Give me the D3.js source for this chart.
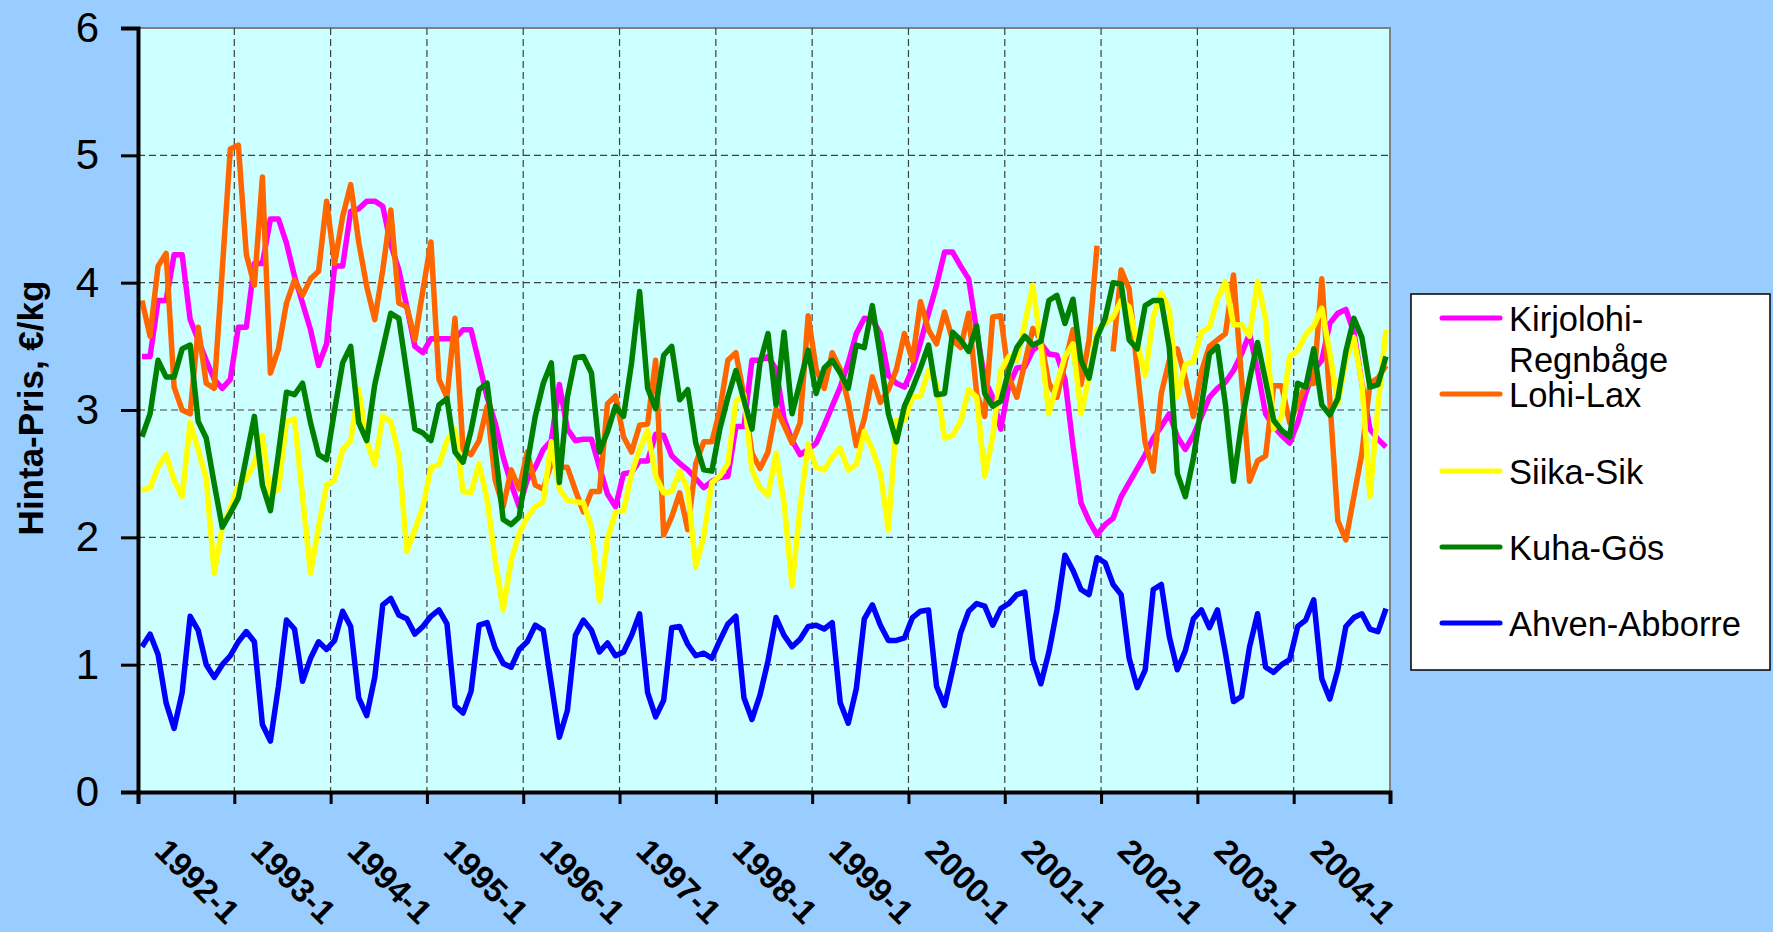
<!DOCTYPE html>
<html>
<head>
<meta charset="utf-8">
<script src="https://cdn.jsdelivr.net/npm/d3@7/dist/d3.min.js"></script>
<style>
  body { margin: 0; background: #99CCFF; }
  svg text { font-family: "Liberation Sans", Arial, sans-serif; }
</style>
</head>
<body>
<svg id="chart" width="1773" height="932"></svg>
<script>
// categories: one per month, Jan 1992 .. Dec 2004
const years = [1992, 1993, 1994, 1995, 1996, 1997, 1998, 1999, 2000, 2001, 2002, 2003, 2004];
const months = [];
years.forEach(y => { for (let m = 1; m <= 12; m++) months.push(y + "-" + m); });

// tick labels
const yearLabels = years.map(y => y + "-1");
const yTicks = [0, 1, 2, 3, 4, 5, 6];

// series names (legend)
const seriesNames = ["Kirjolohi-\nRegnbåge", "Lohi-Lax", "Siika-Sik", "Kuha-Gös", "Ahven-Abborre"];
const seriesColors = ["#FF00FF", "#FF6600", "#FFFF00", "#008000", "#0000FF"];

// values, €/kg
const kirjolohi = [
  3.42, 3.42, 3.86, 3.86, 4.22, 4.22, 3.71, 3.55, 3.39, 3.24, 3.17, 3.24,
  3.65, 3.65, 4.15, 4.15, 4.50, 4.50, 4.31, 4.05, 3.84, 3.63, 3.35, 3.52,
  4.13, 4.13, 4.56, 4.58, 4.64, 4.64, 4.60, 4.30, 4.10, 3.81, 3.50, 3.45,
  3.56, 3.56, 3.56, 3.56, 3.63, 3.63, 3.37, 3.10, 2.90, 2.63, 2.42, 2.24,
  2.45, 2.55, 2.69, 2.76, 3.20, 2.85, 2.76, 2.77, 2.77, 2.55, 2.34, 2.24,
  2.50, 2.51, 2.60, 2.60, 2.81, 2.80, 2.64, 2.58, 2.53, 2.46, 2.39, 2.44,
  2.47, 2.48, 2.87, 2.87, 3.39, 3.39, 3.42, 3.32, 2.93, 2.76, 2.65, 2.69,
  2.74, 2.88, 3.03, 3.18, 3.37, 3.60, 3.72, 3.71, 3.60, 3.27, 3.21, 3.18,
  3.32, 3.53, 3.76, 3.98, 4.24, 4.24, 4.13, 4.03, 3.62, 3.24, 3.10, 2.85,
  3.19, 3.33, 3.34, 3.47, 3.52, 3.44, 3.43, 3.24, 2.72, 2.27, 2.13, 2.02,
  2.10, 2.15, 2.32, 2.43, 2.54, 2.65, 2.78, 2.87, 2.97, 2.79, 2.69, 2.80,
  2.95, 3.10, 3.17, 3.22, 3.31, 3.44, 3.60, 3.31, 2.97, 2.87, 2.80, 2.74,
  2.90, 3.13, 3.31, 3.39, 3.68, 3.76, 3.79, 3.61, 3.21, 2.85, 2.77, 2.71
];
const lohi = [
  3.86, 3.58, 4.13, 4.23, 3.18, 3.00, 2.97, 3.65, 3.21, 3.17, 4.10, 5.05,
  5.08, 4.22, 3.98, 4.83, 3.29, 3.48, 3.84, 4.02, 3.90, 4.03, 4.09, 4.64,
  4.15, 4.52, 4.77, 4.32, 3.97, 3.71, 4.10, 4.57, 3.84, 3.81, 3.55, 3.94,
  4.32, 3.24, 3.10, 3.72, 2.69, 2.65, 2.76, 3.03, 2.45, 2.24, 2.53, 2.38,
  2.67, 2.41, 2.38, 2.58, 2.55, 2.55, 2.37, 2.20, 2.36, 2.36, 3.05, 3.11,
  2.79, 2.67, 2.88, 2.89, 3.39, 2.02, 2.16, 2.35, 2.06, 2.58, 2.75, 2.75,
  3.00, 3.39, 3.45, 3.11, 2.66, 2.54, 2.67, 3.01, 2.88, 2.74, 2.90, 3.74,
  3.32, 3.17, 3.45, 3.32, 3.06, 2.72, 2.93, 3.26, 3.06, 3.16, 3.32, 3.60,
  3.39, 3.85, 3.63, 3.52, 3.77, 3.55, 3.49, 3.76, 3.13, 2.95, 3.73, 3.74,
  3.26, 3.10, 3.37, 3.64, 3.55, 3.21, 3.10, 3.37, 3.63, 3.20, 3.55, 4.29,
  null, 3.46, 4.10, 3.95, 3.32, 2.74, 2.52, 3.13, 3.39, 3.48, 3.25, 2.95,
  3.30, 3.50, 3.55, 3.60, 4.06, 3.25, 2.44, 2.60, 2.64, 3.19, 3.19, 2.90,
  3.05, 3.20, 3.21, 4.03, 3.08, 2.13, 1.98, 2.32, 2.66, 3.21, 3.25, 3.35
];
const siika = [
  2.37, 2.39, 2.55, 2.65, 2.45, 2.32, 2.90, 2.69, 2.46, 1.72, 2.08, 2.23,
  2.41, 2.46, 2.58, 2.80, 2.33, 2.38, 2.91, 2.93, 2.32, 1.72, 2.08, 2.41,
  2.45, 2.69, 2.76, 3.16, 2.76, 2.57, 2.95, 2.91, 2.65, 1.89, 2.06, 2.24,
  2.55, 2.57, 2.76, 2.85, 2.36, 2.35, 2.58, 2.30, 1.82, 1.43, 1.82, 2.03,
  2.16, 2.24, 2.28, 2.75, 2.38, 2.29, 2.28, 2.27, 2.08, 1.50, 1.99, 2.20,
  2.21, 2.50, 2.69, 2.84, 2.48, 2.35, 2.36, 2.52, 2.37, 1.77, 2.01, 2.43,
  2.48, 2.58, 3.07, 3.12, 2.53, 2.39, 2.33, 2.66, 2.27, 1.62, 2.24, 2.73,
  2.55, 2.53, 2.63, 2.70, 2.53, 2.57, 2.83, 2.69, 2.51, 2.06, 2.92, 2.92,
  3.10, 3.11, 3.31, 3.21, 2.78, 2.80, 2.91, 3.16, 3.10, 2.48, 2.79, 3.31,
  3.42, 3.39, 3.68, 3.98, 3.50, 2.97, 3.21, 3.42, 3.52, 2.97, 3.26, 3.63,
  3.68, 3.73, 3.86, 3.81, 3.52, 3.27, 3.73, 3.92, 3.79, 3.10, 3.36, 3.38,
  3.61, 3.65, 3.87, 4.01, 3.67, 3.67, 3.58, 4.01, 3.72, 2.85, 2.95, 3.42,
  3.47, 3.59, 3.66, 3.80, 3.45, 3.05, 3.39, 3.57, 3.21, 2.32, 3.03, 3.63
];
const kuha = [
  2.79, 2.97, 3.39, 3.26, 3.26, 3.48, 3.51, 2.91, 2.78, 2.42, 2.08, 2.19,
  2.31, 2.63, 2.95, 2.41, 2.21, 2.66, 3.14, 3.12, 3.21, 2.90, 2.65, 2.61,
  3.00, 3.37, 3.50, 2.90, 2.76, 3.20, 3.48, 3.76, 3.72, 3.29, 2.85, 2.82,
  2.76, 3.04, 3.09, 2.67, 2.59, 2.84, 3.16, 3.21, 2.69, 2.14, 2.10, 2.16,
  2.58, 2.95, 3.21, 3.37, 2.43, 3.10, 3.41, 3.42, 3.29, 2.67, 2.83, 3.03,
  2.95, 3.37, 3.93, 3.17, 3.01, 3.43, 3.50, 3.08, 3.16, 2.74, 2.53, 2.52,
  2.85, 3.10, 3.31, 3.08, 2.85, 3.37, 3.60, 3.04, 3.61, 2.97, 3.22, 3.47,
  3.13, 3.33, 3.39, 3.29, 3.17, 3.51, 3.49, 3.82, 3.42, 2.97, 2.75, 3.03,
  3.17, 3.33, 3.51, 3.12, 3.13, 3.61, 3.55, 3.46, 3.66, 3.13, 3.03, 3.07,
  3.31, 3.49, 3.58, 3.51, 3.54, 3.86, 3.90, 3.68, 3.87, 3.39, 3.25, 3.57,
  3.72, 4.00, 3.99, 3.55, 3.48, 3.82, 3.86, 3.86, 3.49, 2.50, 2.32, 2.62,
  3.03, 3.44, 3.50, 3.04, 2.44, 2.89, 3.24, 3.53, 3.23, 2.92, 2.84, 2.79,
  3.21, 3.18, 3.48, 3.04, 2.96, 3.09, 3.46, 3.72, 3.57, 3.18, 3.20, 3.42
];
const ahven = [
  1.14, 1.24, 1.08, 0.70, 0.50, 0.78, 1.38, 1.27, 1.00, 0.90, 1.00, 1.07,
  1.18, 1.26, 1.18, 0.53, 0.40, 0.83, 1.35, 1.28, 0.87, 1.05, 1.18, 1.12,
  1.19, 1.42, 1.30, 0.74, 0.60, 0.90, 1.47, 1.52, 1.39, 1.36, 1.24, 1.30,
  1.38, 1.43, 1.32, 0.68, 0.62, 0.79, 1.31, 1.33, 1.13, 1.01, 0.98, 1.12,
  1.18, 1.31, 1.27, 0.85, 0.43, 0.64, 1.23, 1.35, 1.27, 1.10, 1.17, 1.07,
  1.10, 1.23, 1.40, 0.78, 0.59, 0.72, 1.29, 1.30, 1.16, 1.07, 1.09, 1.05,
  1.19, 1.32, 1.38, 0.74, 0.57, 0.76, 1.03, 1.37, 1.23, 1.14, 1.20, 1.30,
  1.31, 1.28, 1.33, 0.70, 0.54, 0.81, 1.36, 1.47, 1.31, 1.19, 1.19, 1.21,
  1.37, 1.42, 1.43, 0.83, 0.68, 0.96, 1.25, 1.42, 1.48, 1.46, 1.31, 1.44,
  1.48, 1.55, 1.57, 1.04, 0.85, 1.10, 1.43, 1.86, 1.74, 1.59, 1.55, 1.84,
  1.80, 1.63, 1.55, 1.05, 0.82, 0.96, 1.59, 1.63, 1.22, 0.96, 1.11, 1.36,
  1.43, 1.29, 1.43, 1.09, 0.71, 0.75, 1.14, 1.40, 0.98, 0.94, 1.00, 1.04,
  1.30, 1.35, 1.51, 0.89, 0.73, 0.96, 1.30, 1.37, 1.40, 1.28, 1.26, 1.44
];

const seriesValues = [kirjolohi, lohi, siika, kuha, ahven];

//Plot area - matches the picture
const plot = {left: 138, right: 1390, top: 28, bottom: 792};

const svg = d3.select("#chart");

const x = d3.scaleBand()
    .domain(months)
    .range([plot.left, plot.right]);
// continuous version for year boundaries / gridlines
const xIdx = d3.scaleLinear()
    .domain([0, months.length])
    .range([plot.left, plot.right]);
const y = d3.scaleLinear()
    .domain([0, 6])
    .range([plot.bottom, plot.top]);

//outer background
svg.append("rect")
    .attr("width", 1773).attr("height", 932)
    .attr("fill", "#99CCFF");

//plot area
svg.append("rect")
    .attr("x", plot.left).attr("y", plot.top)
    .attr("width", plot.right - plot.left)
    .attr("height", plot.bottom - plot.top)
    .attr("fill", "#CCFFFF")
    .attr("stroke", "#808080")
    .attr("stroke-width", 2);

//gridlines
const yearBounds = d3.range(12, months.length, 12);
svg.append("g").selectAll("line.h")
    .data(yTicks.filter(t => t > 0 && t < 6))
    .join("line")
    .attr("x1", plot.left).attr("x2", plot.right)
    .attr("y1", d => y(d)).attr("y2", d => y(d))
    .attr("stroke", "#404040").attr("stroke-width", 1.2)
    .attr("stroke-dasharray", "7,4");
svg.append("g").selectAll("line.v")
    .data(yearBounds)
    .join("line")
    .attr("x1", d => xIdx(d)).attr("x2", d => xIdx(d))
    .attr("y1", plot.top).attr("y2", plot.bottom)
    .attr("stroke", "#404040").attr("stroke-width", 1.2)
    .attr("stroke-dasharray", "7,4");

//lines
const line = d3.line()
    .defined(d => d != null)
    .x((d, i) => x(months[i]) + x.bandwidth() / 2)
    .y(d => y(d));

svg.append("g").selectAll("path")
    .data(seriesValues)
    .join("path")
    .attr("d", line)
    .attr("fill", "none")
    .attr("stroke", (d, i) => seriesColors[i])
    .attr("stroke-width", 5.5)
    .attr("stroke-linejoin", "round");

//y axis
const yAxis = svg.append("g")
    .attr("transform", `translate(${plot.left},0)`)
    .call(d3.axisLeft(y).tickValues(yTicks).tickFormat(d3.format("d")).tickSize(17).tickPadding(22));
yAxis.select(".domain").attr("stroke", "#000").attr("stroke-width", 4);
yAxis.selectAll(".tick line").attr("stroke", "#000").attr("stroke-width", 3);
yAxis.selectAll(".tick text")
    .attr("font-size", 42)
    .attr("font-family", "Liberation Sans, Arial, sans-serif")
    .attr("fill", "#000");

//x axis - ticks at year boundaries
const xAxis = svg.append("g")
    .attr("transform", `translate(0,${plot.bottom})`)
    .call(d3.axisBottom(xIdx).tickValues(d3.range(0, months.length + 1, 12)).tickSize(12).tickFormat(""));
xAxis.select(".domain").attr("stroke", "#000").attr("stroke-width", 4);
xAxis.selectAll(".tick line").attr("stroke", "#000").attr("stroke-width", 3);

//rotated year labels
svg.append("g").selectAll("text")
    .data(yearLabels)
    .join("text")
    .attr("transform", d => `translate(${x(d) + x.bandwidth() / 2 + 11},853) rotate(45)`)
    .attr("font-size", 33)
    .attr("font-weight", "bold")
    .attr("fill", "#000")
    .text(d => d);

//y title
svg.append("text")
    .attr("transform", "translate(43,408) rotate(-90)")
    .attr("text-anchor", "middle")
    .attr("font-size", 35)
    .attr("font-weight", "bold")
    .attr("fill", "#000")
    .text("Hinta-Pris, €/kg");

//legend
const legend = svg.append("g");
legend.append("rect")
    .attr("x", 1411).attr("y", 294)
    .attr("width", 359).attr("height", 376)
    .attr("fill", "#fff")
    .attr("stroke", "#000").attr("stroke-width", 1.5);

const legendY = [318, 394, 471, 547, 623];
const items = legend.selectAll("g.item")
    .data(seriesNames)
    .join("g")
    .attr("transform", (d, i) => `translate(0,${legendY[i]})`);
items.append("line")
    .attr("x1", 1442).attr("x2", 1500)
    .attr("stroke", (d, i) => seriesColors[i])
    .attr("stroke-width", 5)
    .attr("stroke-linecap", "round");
items.append("text")
    .attr("x", 1509).attr("y", 13)
    .attr("font-size", 34.5)
    .attr("fill", "#000")
    .selectAll("tspan")
    .data(d => d.split("\n"))
    .join("tspan")
    .attr("x", 1509)
    .attr("dy", (d, i) => i === 0 ? 0 : 41)
    .text(d => d);
</script>
</body>
</html>
